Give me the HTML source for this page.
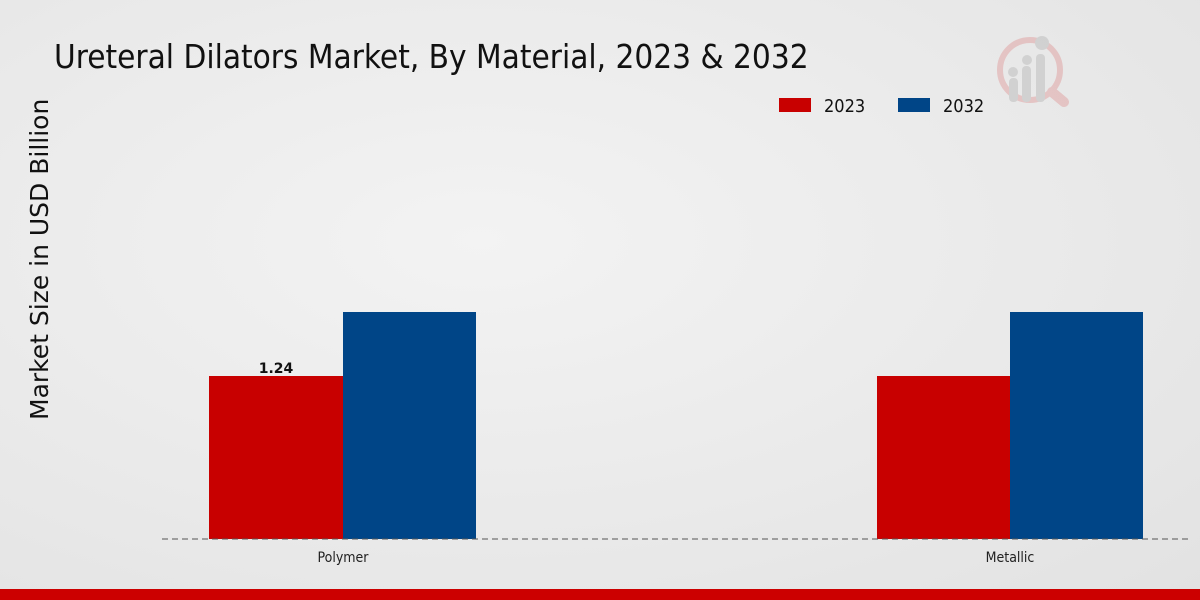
<!DOCTYPE html>
<html><head><meta charset="utf-8"><style>
html,body{margin:0;padding:0}
body{width:1200px;height:600px;overflow:hidden;background:radial-gradient(ellipse at 40% 40%,#f3f3f3 0%,#e9e9e9 60%,#e2e2e2 100%);position:relative;font-family:"DejaVu Sans","Liberation Sans",sans-serif}
.t{position:absolute;white-space:nowrap}
</style></head><body>
<div class="t" style="left:54px;top:37px;font-size:33px;font-family:'DejaVu Sans Condensed','Liberation Sans Narrow','DejaVu Sans',sans-serif;font-stretch:condensed;color:#111">Ureteral Dilators Market, By Material, 2023 &amp; 2032</div>
<svg style="position:absolute;left:0;top:0" width="1200" height="600">
<g opacity="0.5">
<circle cx="1030" cy="70" r="30" fill="none" stroke="#e0a0a0" stroke-width="6"/>
<line x1="1052" y1="92" x2="1064" y2="102" stroke="#e0a0a0" stroke-width="10" stroke-linecap="round"/>
<rect x="1009" y="78" width="9" height="24" rx="4" fill="#bbb"/>
<rect x="1022" y="66" width="9" height="36" rx="4" fill="#bbb"/>
<rect x="1036" y="54" width="9" height="48" rx="4" fill="#bbb"/>
<circle cx="1013" cy="72" r="5" fill="#bbb"/><circle cx="1027" cy="60" r="5" fill="#bbb"/><circle cx="1042" cy="43" r="7" fill="#bbb"/>
</g>
<rect x="779" y="98" width="32" height="14" fill="#c80000"/>
<text x="824" y="112" font-size="18" font-family="DejaVu Sans Condensed,Liberation Sans Narrow,sans-serif" fill="#111">2023</text>
<rect x="898" y="98" width="32" height="14" fill="#004587"/>
<text x="943" y="112" font-size="18" font-family="DejaVu Sans Condensed,Liberation Sans Narrow,sans-serif" fill="#111">2032</text>
<text transform="translate(48,420) rotate(-90)" font-size="25" fill="#111">Market Size in USD Billion</text>
<rect x="209" y="376" width="134" height="163" fill="#c80000"/>
<rect x="343" y="312" width="133" height="227" fill="#004587"/>
<rect x="877" y="376" width="133" height="163" fill="#c80000"/>
<rect x="1010" y="312" width="133" height="227" fill="#004587"/>
<text x="276" y="373" font-size="14" font-weight="bold" text-anchor="middle" fill="#111">1.24</text>
<line x1="162" y1="539" x2="1190" y2="539" stroke="#555" stroke-width="1" stroke-dasharray="6,4"/>
<text x="343" y="562" font-size="14" text-anchor="middle" font-family="DejaVu Sans Condensed,Liberation Sans Narrow,sans-serif" fill="#222">Polymer</text>
<text x="1010" y="562" font-size="14" text-anchor="middle" font-family="DejaVu Sans Condensed,Liberation Sans Narrow,sans-serif" fill="#222">Metallic</text>
<rect x="0" y="589" width="1200" height="11" fill="#cc0000"/>
</svg>
</body></html>
